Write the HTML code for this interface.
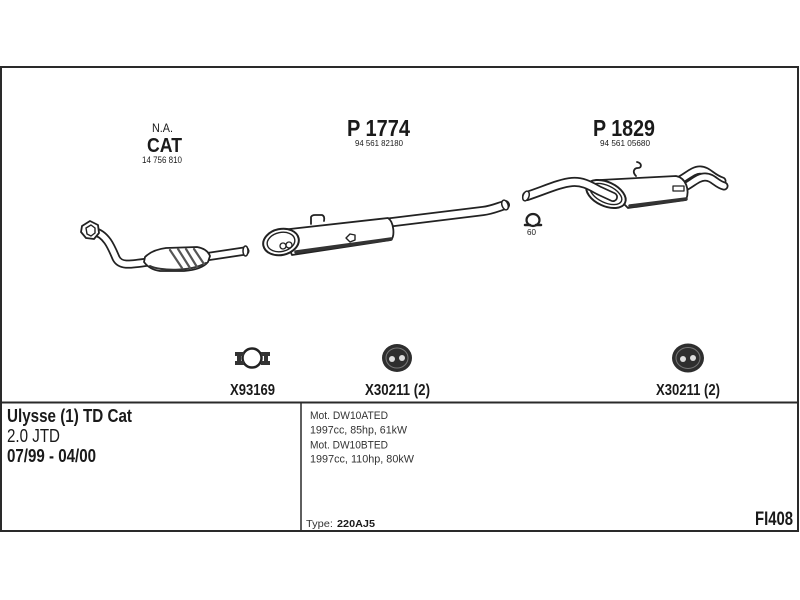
<!DOCTYPE html>
<html><head><meta charset="utf-8"><style>
html,body{margin:0;padding:0;background:#fff;width:800px;height:600px;overflow:hidden}
svg{display:block}
</style></head><body>
<svg width="800" height="600" viewBox="0 0 800 600" xmlns="http://www.w3.org/2000/svg" font-family="'Liberation Sans', Arial, sans-serif" fill="#1a1a1a">
<rect width="800" height="600" fill="#fff"/>
<!-- frame -->
<rect x="1" y="67" width="797" height="464" fill="none" stroke="#2a2a2a" stroke-width="2"/>
<line x1="1" y1="402.5" x2="798" y2="402.5" stroke="#2a2a2a" stroke-width="2"/>
<line x1="301" y1="402" x2="301" y2="531" stroke="#2a2a2a" stroke-width="1.5"/>

<!-- titles -->
<text x="152" y="132" font-size="12" textLength="21" lengthAdjust="spacingAndGlyphs">N.A.</text>
<text x="147" y="152" font-size="20.5" font-weight="bold" textLength="35" lengthAdjust="spacingAndGlyphs">CAT</text>
<text x="142" y="163" font-size="9.5" textLength="40" lengthAdjust="spacingAndGlyphs">14 756 810</text>
<text x="347" y="136" font-size="23" font-weight="bold" textLength="63" lengthAdjust="spacingAndGlyphs">P 1774</text>
<text x="355" y="146" font-size="8.5" textLength="48" lengthAdjust="spacingAndGlyphs">94 561 82180</text>
<text x="593" y="136" font-size="23" font-weight="bold" textLength="62" lengthAdjust="spacingAndGlyphs">P 1829</text>
<text x="600" y="146" font-size="8.5" textLength="50" lengthAdjust="spacingAndGlyphs">94 561 05680</text>

<g stroke-linecap="round" stroke-linejoin="round">
<!-- CAT assembly -->
<path d="M93,231 C106,234 111,246 116,258 C120,266 128,265 148,262" fill="none" stroke="#222" stroke-width="9"/>
<path d="M93,231 C106,234 111,246 116,258 C120,266 128,265 148,262" fill="none" stroke="#fff" stroke-width="5.5"/>
<polygon points="82,226 90,221 98,225 99,233 94,239 86,238 81,232" fill="#fff" stroke="#222" stroke-width="1.8"/>
<polygon points="86,228 91,225 95,228 95,233 91,236 87,234" fill="#fff" stroke="#222" stroke-width="1.4"/>
<path d="M205,257 L245,251" fill="none" stroke="#222" stroke-width="9"/>
<path d="M205,257 L245,251" fill="none" stroke="#fff" stroke-width="5.5"/>
<ellipse cx="245.5" cy="251" rx="2.5" ry="5" fill="#fff" stroke="#222" stroke-width="1.5"/>
<path d="M145,257 C150,252 158,249 166,248 L197,247 C203,248 208,251 210,256 L208,262 C204,267 197,270 184,271 L160,271 C152,270 147,266 144,262 Z" fill="#fff" stroke="#222" stroke-width="1.8"/>
<path d="M150,266 C160,271 190,272 206,263" fill="none" stroke="#333" stroke-width="2"/>
<g stroke="#555" stroke-width="2.2" fill="none">
<path d="M170,250 L182,268"/><path d="M178,249 L190,268"/><path d="M186,249 L197,267"/><path d="M194,249 L204,264"/>
</g>

<!-- P1774 middle silencer -->
<path d="M385,223 L483,211 C492,210 498,207 505,205" fill="none" stroke="#222" stroke-width="10"/>
<path d="M385,223 L483,211 C492,210 498,207 505,205" fill="none" stroke="#fff" stroke-width="6.5"/>
<ellipse cx="505" cy="205" rx="3" ry="5" transform="rotate(-20 505 205)" fill="#fff" stroke="#222" stroke-width="1.5"/>
<path d="M281,230 L388,218 C394,222 395,236 391,240 L292,255 Z" fill="#fff" stroke="#222" stroke-width="1.8"/>
<path d="M296,252 L391,239" stroke="#333" stroke-width="3.5" fill="none"/>
<ellipse cx="281" cy="242" rx="18" ry="13" transform="rotate(-12 281 242)" fill="#fff" stroke="#222" stroke-width="2"/>
<ellipse cx="281" cy="242" rx="14" ry="9.5" transform="rotate(-12 281 242)" fill="#fff" stroke="#222" stroke-width="1.4"/>
<circle cx="283" cy="246" r="3" fill="#fff" stroke="#222" stroke-width="1.3"/>
<circle cx="289" cy="245" r="3" fill="#fff" stroke="#222" stroke-width="1.3"/>
<path d="M311,224 L311,217 Q312,215 315,215 L322,215 Q325,216 324,221" stroke="#222" stroke-width="1.8" fill="none"/>
<path d="M346,238 L350,234 L355,235 L355,240 L350,242 Z" fill="#fff" stroke="#222" stroke-width="1.4"/>

<!-- P1829 rear silencer -->
<path d="M676,182 C686,178 692,170 700,170 C708,170 712,178 722,181" fill="none" stroke="#222" stroke-width="9"/>
<path d="M676,182 C686,178 692,170 700,170 C708,170 712,178 722,181" fill="none" stroke="#fff" stroke-width="5.5"/>
<path d="M681,189 C691,185 697,177 705,177 C713,177 716,184 724,186" fill="none" stroke="#222" stroke-width="9"/>
<path d="M681,189 C691,185 697,177 705,177 C713,177 716,184 724,186" fill="none" stroke="#fff" stroke-width="5.5"/>
<path d="M600,180 L676,176 C686,178 690,190 686,200 L628,208 Z" fill="#fff" stroke="#222" stroke-width="1.8"/>
<path d="M630,206 L686,199" stroke="#333" stroke-width="3.5" fill="none"/>
<rect x="673" y="186" width="11" height="5" fill="#fff" stroke="#222" stroke-width="1.3"/>
<ellipse cx="606" cy="194" rx="21" ry="12" transform="rotate(25 606 194)" fill="#fff" stroke="#222" stroke-width="2"/>
<ellipse cx="606" cy="194" rx="17" ry="8.5" transform="rotate(25 606 194)" fill="#fff" stroke="#222" stroke-width="1.4"/>
<path d="M527,196 C545,190 560,183 572,182 C584,181 592,187 600,191 L613,197" fill="none" stroke="#222" stroke-width="10"/>
<path d="M527,196 C545,190 560,183 572,182 C584,181 592,187 600,191 L613,197" fill="none" stroke="#fff" stroke-width="6.5"/>
<ellipse cx="526" cy="196" rx="3" ry="5" transform="rotate(20 526 196)" fill="#fff" stroke="#222" stroke-width="1.5"/>
<path d="M636,176 C632,172 634,168 638,168 C642,168 642,163 637,162" stroke="#222" stroke-width="1.8" fill="none"/>

<!-- clamp 60 -->
<ellipse cx="533" cy="220" rx="6.5" ry="6" fill="none" stroke="#222" stroke-width="2.2"/>
<path d="M525,225 L530,225 M536,225 L541,225" stroke="#222" stroke-width="2.5"/>
</g>
<text x="527" y="235" font-size="8" textLength="9" lengthAdjust="spacingAndGlyphs">60</text>

<!-- bottom parts -->
<circle cx="252" cy="358" r="9.5" fill="none" stroke="#222" stroke-width="2.5"/>
<g fill="#333">
<rect x="235" y="352" width="9" height="4"/><rect x="235" y="361" width="9" height="4"/><rect x="237" y="355" width="4" height="7"/>
<rect x="261" y="352" width="9" height="4"/><rect x="261" y="361" width="9" height="4"/><rect x="264" y="355" width="4" height="7"/>
</g>
<ellipse cx="397" cy="358" rx="15" ry="14" fill="#2e2e2e"/>
<ellipse cx="397" cy="358" rx="11" ry="10" fill="none" stroke="#777" stroke-width="1"/>
<circle cx="392" cy="359" r="3" fill="#ddd"/><circle cx="402" cy="358" r="3" fill="#ddd"/>
<ellipse cx="688" cy="358" rx="16" ry="14.5" fill="#2e2e2e"/>
<ellipse cx="688" cy="358" rx="12" ry="10.5" fill="none" stroke="#777" stroke-width="1"/>
<circle cx="683" cy="359" r="3" fill="#ddd"/><circle cx="693" cy="358" r="3" fill="#ddd"/>

<text x="230" y="395" font-size="16" font-weight="bold" textLength="45" lengthAdjust="spacingAndGlyphs">X93169</text>
<text x="365" y="395" font-size="16" font-weight="bold" textLength="65" lengthAdjust="spacingAndGlyphs">X30211 (2)</text>
<text x="656" y="395" font-size="16" font-weight="bold" textLength="64" lengthAdjust="spacingAndGlyphs">X30211 (2)</text>

<!-- info -->
<text x="7" y="422" font-size="18" font-weight="bold" textLength="125" lengthAdjust="spacingAndGlyphs">Ulysse (1) TD Cat</text>
<text x="7" y="442" font-size="18" textLength="53" lengthAdjust="spacingAndGlyphs">2.0 JTD</text>
<text x="7" y="462" font-size="18" font-weight="bold" textLength="89" lengthAdjust="spacingAndGlyphs">07/99 - 04/00</text>

<g font-size="11" fill="#333">
<text x="310" y="419" textLength="78" lengthAdjust="spacingAndGlyphs">Mot. DW10ATED</text>
<text x="310" y="433.5" textLength="97" lengthAdjust="spacingAndGlyphs">1997cc, 85hp, 61kW</text>
<text x="310" y="448.5" textLength="78" lengthAdjust="spacingAndGlyphs">Mot. DW10BTED</text>
<text x="310" y="462.5" textLength="104" lengthAdjust="spacingAndGlyphs">1997cc, 110hp, 80kW</text>
</g>
<text x="306" y="527" font-size="10.5" fill="#333" textLength="27" lengthAdjust="spacingAndGlyphs">Type:</text>
<text x="337" y="527" font-size="10.5" font-weight="bold" textLength="38" lengthAdjust="spacingAndGlyphs">220AJ5</text>
<text x="755" y="525" font-size="19" font-weight="bold" textLength="38" lengthAdjust="spacingAndGlyphs">FI408</text>
</svg>
</body></html>
